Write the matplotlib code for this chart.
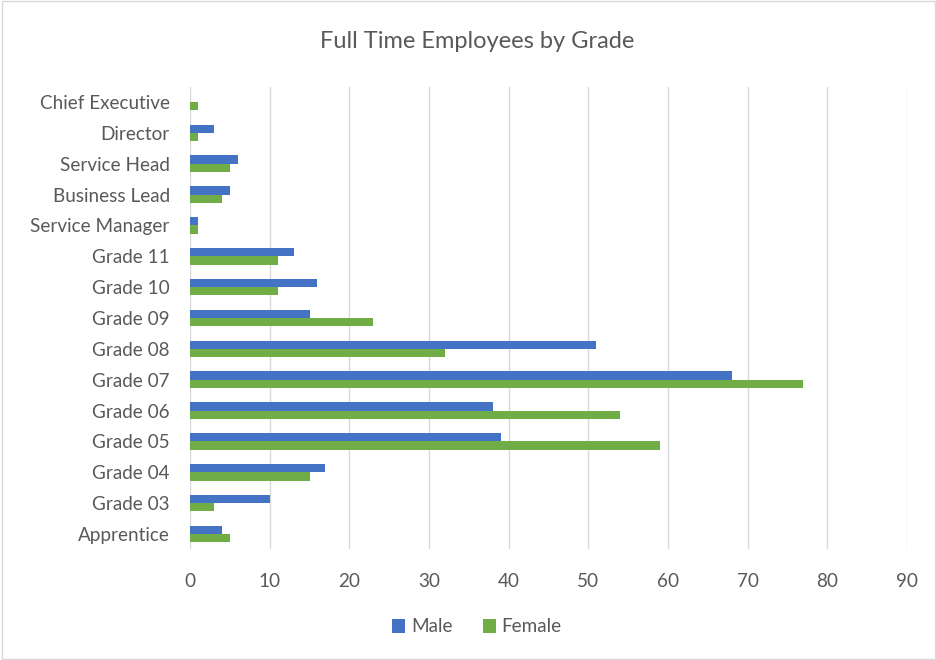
import matplotlib
matplotlib.use("Agg")
import matplotlib.pyplot as plt
import numpy as np

categories = ["Chief Executive", "Director", "Service Head", "Business Lead", "Service Manager",
              "Grade 11", "Grade 10", "Grade 09", "Grade 08", "Grade 07", "Grade 06",
              "Grade 05", "Grade 04", "Grade 03", "Apprentice"]
male = [0, 3, 6, 5, 1, 13, 16, 15, 51, 68, 38, 39, 17, 10, 4]
female = [1, 1, 5, 4, 1, 11, 11, 23, 32, 77, 54, 59, 15, 3, 5]
xticks = [0, 10, 20, 30, 40, 50, 60, 70, 80, 90]

plt.rcParams['font.family'] = ['Lato', 'DejaVu Sans']
text_color = "#595959"
blue = "#4472C4"
green = "#70AD47"

W, H = 937, 660
fig = plt.figure(figsize=(W/100, H/100), dpi=100)
ax = fig.add_axes([190/W, 1-549.4/H, 717/W, (549.4-86.6)/H])

y = np.arange(len(categories))
bh = 0.27
ax.barh(y - bh/2, male, height=bh, color=blue, label="Male", zorder=3)
ax.barh(y + bh/2, female, height=bh, color=green, label="Female", zorder=3)

ax.set_ylim(len(categories) - 0.5, -0.5)
ax.set_xlim(0, 90)
ax.set_xticks(xticks)
ax.set_yticks(y)
ax.set_yticklabels(categories)
ax.tick_params(axis='both', length=0, labelsize=13.6, colors=text_color)
ax.tick_params(axis='y', pad=14.5)
ax.tick_params(axis='x', pad=17)
ax.xaxis.grid(True, color="#d9d9d9", linewidth=1, zorder=0)
for s in ax.spines.values():
    s.set_visible(False)

fig.text(477/W, 1-42/H, "Full Time Employees by Grade", ha='center', va='center',
         fontsize=17, color=text_color)

leg = fig.legend(handles=ax.get_legend_handles_labels()[0], labels=["Male", "Female"],
                 loc='center', bbox_to_anchor=(477/W, 1-627/H), ncol=2, frameon=False,
                 fontsize=13.6, handlelength=0.7, handleheight=0.7, handletextpad=0.3,
                 columnspacing=1.6, labelcolor=text_color)

border = plt.Rectangle((0.002, 0.002), 0.996, 0.996, transform=fig.transFigure,
                       fill=False, edgecolor="#d9d9d9", linewidth=1)
fig.patches.append(border)

fig.savefig("out.png", dpi=100)
